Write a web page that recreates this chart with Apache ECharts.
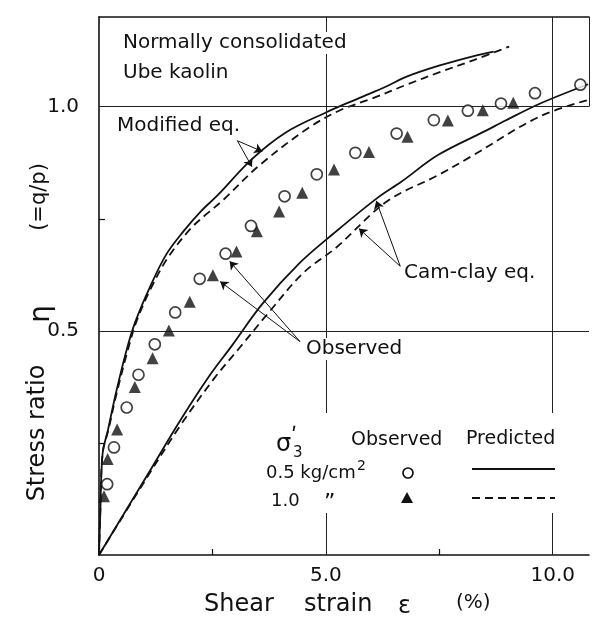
<!DOCTYPE html>
<html><head><meta charset="utf-8">
<script src="https://cdn.jsdelivr.net/npm/echarts@6/dist/echarts.min.js"></script>
<style>html,body{margin:0;padding:0;background:#fff}#c{width:592px;height:619px}</style>
</head><body><div id="c"></div>
<script>
// ---- data ----
const obs05X = [0.18,0.33,0.61,0.87,1.23,1.68,2.22,2.79,3.35,4.09,4.80,5.65,6.56,7.38,8.13,8.86,9.61,10.61];
const obs05Y = [0.158,0.240,0.329,0.402,0.470,0.541,0.616,0.672,0.734,0.800,0.849,0.897,0.940,0.970,0.991,1.007,1.030,1.049];
const obs10X = [0.11,0.19,0.40,0.79,1.18,1.54,2.00,2.51,3.03,3.48,3.97,4.48,5.18,5.95,6.80,7.69,8.46,9.13];
const obs10Y = [0.131,0.214,0.280,0.375,0.439,0.501,0.565,0.624,0.677,0.722,0.766,0.808,0.860,0.899,0.933,0.969,0.992,1.009];

const modSolidX = [0,0.03,0.08,0.2,0.37,0.61,0.8,1.12,1.48,1.87,2.25,2.61,3.37,4.11,5.0,5.73,6.33,6.78,7.51,8.26,8.7];
const modSolidY = [0,0.1,0.227,0.28,0.36,0.458,0.52,0.597,0.67,0.723,0.767,0.802,0.883,0.942,0.987,1.019,1.045,1.067,1.092,1.113,1.123];
const modDashX = [0,0.03,0.08,0.21,0.38,0.63,0.83,1.16,1.53,2.02,2.4,2.75,3.5,4.55,5.29,6.04,6.78,7.51,8.26,9.04];
const modDashY = [0,0.1,0.227,0.28,0.357,0.455,0.522,0.598,0.665,0.728,0.763,0.793,0.866,0.948,0.991,1.019,1.049,1.077,1.104,1.134];

const camSolidX = [0,1.04,1.79,2.40,2.93,3.60,4.43,5.17,6.13,6.67,7.47,8.52,8.96,9.70,10.78];
const camSolidY = [0,0.174,0.300,0.395,0.467,0.560,0.652,0.717,0.796,0.833,0.892,0.946,0.969,1.006,1.05];
const camDashX = [0,1.04,1.8,2.54,3.08,3.75,4.5,5.23,6.35,7.47,8.22,9.69,10.78];
const camDashY = [0,0.170,0.29,0.394,0.46,0.542,0.629,0.686,0.789,0.847,0.89,0.977,1.015];

const xTickValues = [0, 5, 10];
const xTickLabels = ['0', '5.0', '10.0'];
const yTickValues = [0.5, 1.0];
const yTickLabels = ['0.5', '1.0'];

// ---- chart ----
const FONT = '"DejaVu Sans", sans-serif';
const INK = '#111';
const zip = (xs, ys) => xs.map((x, i) => [x, ys[i]]);
const chart = echarts.init(document.getElementById('c'), null, {renderer: 'canvas'});

function lbl(vals, labs) {
  return v => { const i = vals.findIndex(t => Math.abs(t - v) < 1e-6); return i >= 0 ? labs[i] : ''; };
}
function arrow(from, to) {
  return [{coord: from, symbol: 'none'}, {coord: to, symbol: 'arrow'}];
}
function txt(text, x, y, size, extra) {
  return {
    type: 'text', x: x, y: y, z: 100,
    style: Object.assign({text: text, font: size + 'px ' + FONT, fill: INK,
      textAlign: 'left', textVerticalAlign: 'middle'}, extra || {})
  };
}
const bg = {backgroundColor: '#fff', padding: [1, 3]};
const curve = {type: 'line', showSymbol: false, smooth: 0.35, clip: true};

const option = {
  animation: false,
  backgroundColor: '#fff',
  grid: {left: 99, right: 3, top: 17, bottom: 64},
  xAxis: [{
    type: 'value', min: 0, max: 10.8, interval: 2.5,
    axisLine: {lineStyle: {color: INK, width: 1.6}},
    axisTick: {inside: true, length: 6, customValues: [2.5, 7.5], lineStyle: {color: INK, width: 1.2}},
    axisLabel: {customValues: xTickValues, formatter: lbl(xTickValues, xTickLabels),
      fontFamily: FONT, fontSize: 20, color: INK, margin: 11},
    splitLine: {show: false}
  }, {
    type: 'value', position: 'top', min: 0, max: 10.8,
    axisLine: {show: true, onZero: false, lineStyle: {color: INK, width: 1.6}},
    axisTick: {show: false}, axisLabel: {show: false}, splitLine: {show: false}
  }],
  yAxis: [{
    type: 'value', min: 0, max: 1.2, interval: 0.25,
    axisLine: {lineStyle: {color: INK, width: 1.6}},
    axisTick: {inside: true, length: 6, customValues: [0.25, 0.75], lineStyle: {color: INK, width: 1.2}},
    axisLabel: {customValues: yTickValues, formatter: lbl(yTickValues, yTickLabels),
      fontFamily: FONT, fontSize: 20, color: INK, margin: 20},
    splitLine: {show: false}
  }],
  series: [
    {
      name: 'grid', type: 'line', data: [], silent: true,
      markLine: {
        silent: true, symbol: 'none', label: {show: false},
        lineStyle: {color: '#222', width: 1, type: 'solid'},
        data: [
          {xAxis: 5}, {xAxis: 10}, {yAxis: 0.5}, {yAxis: 1.0},
          [{coord: [10.8, 1.0]}, {coord: [10.8, 1.2]}]
        ]
      }
    },
    {
      name: 'arrows', type: 'line', data: [], silent: true,
      markLine: {
        silent: true, symbolSize: 8, label: {show: false},
        lineStyle: {color: INK, width: 1, type: 'solid'},
        data: [
          arrow([3.05, 0.924], [3.6, 0.9]),
          arrow([3.05, 0.924], [3.37, 0.866]),
          arrow([6.64, 0.644], [6.11, 0.79]),
          arrow([6.64, 0.644], [5.73, 0.728]),
          arrow([4.43, 0.476], [2.88, 0.655]),
          arrow([4.43, 0.476], [2.67, 0.61])
        ]
      }
    },
    Object.assign({name: 'Modified 0.5', data: zip(modSolidX, modSolidY),
      lineStyle: {color: INK, width: 1.8}}, curve),
    Object.assign({name: 'Modified 1.0', data: zip(modDashX, modDashY),
      lineStyle: {color: INK, width: 1.8, type: [8, 5]}}, curve),
    Object.assign({name: 'Cam-clay 0.5', data: zip(camSolidX, camSolidY),
      lineStyle: {color: INK, width: 1.8}}, curve),
    Object.assign({name: 'Cam-clay 1.0', data: zip(camDashX, camDashY),
      lineStyle: {color: INK, width: 1.8, type: [8, 5]}}, curve),
    {name: 'Observed 0.5', type: 'scatter', data: zip(obs05X, obs05Y), symbol: 'circle', symbolSize: 11,
      itemStyle: {color: '#fff', borderColor: INK, borderWidth: 1.7}, z: 5},
    {name: 'Observed 1.0', type: 'scatter', data: zip(obs10X, obs10Y), symbol: 'triangle', symbolSize: 12,
      itemStyle: {color: INK}, z: 5}
  ],
  graphic: [
    {type: 'rect', z: 50, shape: {x: 262, y: 413, width: 306, height: 100}, style: {fill: '#fff'}},
    txt('Normally consolidated', 120, 43, 20, bg),
    txt('Ube kaolin', 120, 73, 20, bg),
    txt('Modified eq.', 114, 126, 20, bg),
    txt('Cam-clay eq.', 401, 273, 20, bg),
    txt('Observed', 303, 349, 20, bg),
    // legend
    txt('σ', 276, 445, 24),
    txt('ʹ', 291, 437, 22),
    txt('3', 293, 453, 15),
    txt('Observed', 351, 440, 19),
    txt('Predicted', 466, 439, 19),
    txt('0.5 kg/cm', 266, 473, 18),
    txt('2', 357, 466, 14),
    txt('1.0', 271, 501, 18),
    txt('”', 324, 503, 22),
    {type: 'circle', z: 100, shape: {cx: 408, cy: 473, r: 5}, style: {fill: '#fff', stroke: INK, lineWidth: 1.7}},
    {type: 'polygon', z: 100, shape: {points: [[407, 492], [401, 503], [413, 503]]}, style: {fill: INK}},
    {type: 'line', z: 100, shape: {x1: 472, y1: 469, x2: 555, y2: 469}, style: {stroke: INK, lineWidth: 1.8}},
    {type: 'line', z: 100, shape: {x1: 472, y1: 498, x2: 555, y2: 498}, style: {stroke: INK, lineWidth: 1.8, lineDash: [8, 5]}},
    // axis titles
    txt('Shear', 204, 605, 24),
    txt('strain', 304, 605, 24),
    txt('ε', 398, 607, 24),
    txt('(%)', 456, 603, 20),
    {type: 'text', z: 100, x: 38, y: 433, rotation: Math.PI / 2,
      style: {text: 'Stress ratio', font: '24px ' + FONT, fill: INK, textAlign: 'center', textVerticalAlign: 'middle'}},
    {type: 'text', z: 100, x: 42, y: 314, rotation: Math.PI / 2,
      style: {text: 'η', font: '28px ' + FONT, fill: INK, textAlign: 'center', textVerticalAlign: 'middle'}},
    {type: 'text', z: 100, x: 40, y: 197, rotation: Math.PI / 2,
      style: {text: '(=q/p)', font: '21px ' + FONT, fill: INK, textAlign: 'center', textVerticalAlign: 'middle'}}
  ]
};
chart.setOption(option);
</script>
</body></html>
